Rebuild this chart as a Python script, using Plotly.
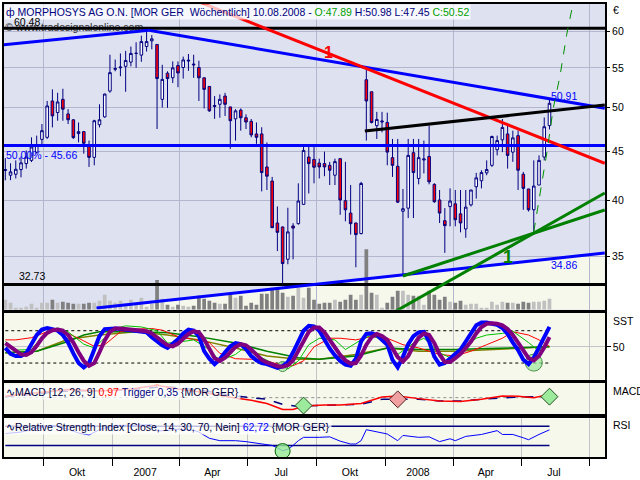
import math
import pandas as pd
import plotly.graph_objects as go

FONT = "Liberation Sans"
NAVY = "#000080"
CREAM = "#F6F8EC"
LAVENDER = "#DEE1F0"
GRID_MAIN = "#B4B6CE"
GRID_LOW = "#C4C4C8"

# ---------------- data ----------------
dates = pd.date_range("2006-08-11", periods=105, freq="7D")

opens = [43.0, 42.52, 42.62, 43.10, 43.72, 44.06, 44.94, 46.33, 46.56, 50.80,
         49.41, 51.00, 49.25, 48.56, 46.98, 47.20, 45.66, 44.38, 47.99, 48.90,
         52.02, 54.80, 55.00, 55.20, 55.76, 56.93, 56.70, 57.88, 58.67, 58.17,
         51.00, 54.30, 53.70, 55.30, 55.04, 55.90, 55.50, 55.04, 53.70, 52.60,
         50.25, 50.40, 51.40, 50.08, 48.67, 49.70, 48.80, 48.38, 46.94, 46.94,
         43.37, 41.93, 37.92, 37.56, 34.76, 37.65, 37.86, 39.65, 44.41, 44.16,
         43.78, 43.72, 43.54, 42.52, 44.24, 40.00, 38.83, 37.92, 36.97, 53.45,
         51.93, 47.88, 48.30, 48.25, 44.35, 43.44, 39.00, 39.29, 44.88, 42.19,
         44.10, 44.48, 41.60, 40.07, 38.13, 39.44, 39.70, 38.76, 37.38, 39.60,
         41.36, 41.96, 42.76, 43.54, 45.20, 46.28, 46.94, 44.94, 46.75, 42.62,
         41.14, 39.14, 41.53, 44.41, 47.89]
highs = [44.30, 43.75, 44.06, 44.48, 45.12, 46.56, 46.75, 48.07, 50.80, 52.23,
         51.81, 52.31, 49.81, 48.60, 48.25, 47.25, 46.20, 48.56, 50.40, 51.70,
         56.75, 56.10, 56.93, 57.28, 57.88, 58.47, 59.40, 60.48, 59.50, 58.20,
         55.40, 54.54, 55.85, 55.85, 56.50, 56.85, 56.75, 55.95, 53.75, 52.65,
         51.40, 51.60, 51.80, 50.10, 49.81, 49.90, 49.20, 48.65, 48.25, 47.70,
         46.00, 42.35, 39.45, 37.60, 39.33, 37.90, 41.70, 45.50, 45.50, 45.50,
         44.24, 44.99, 43.90, 44.24, 44.30, 43.90, 41.53, 37.95, 41.85, 54.74,
         51.95, 49.49, 49.49, 49.40, 46.38, 46.38, 41.14, 46.38, 46.38, 46.38,
         46.20, 47.88, 41.70, 41.04, 39.30, 41.20, 41.04, 41.04, 41.04, 41.04,
         42.76, 43.03, 44.06, 46.75, 46.75, 48.65, 48.07, 47.31, 47.31, 42.86,
         41.16, 44.06, 44.59, 48.83, 50.98]
lows = [42.00, 42.02, 42.19, 42.30, 43.20, 43.88, 44.77, 45.66, 46.38, 47.68,
        48.45, 48.45, 48.07, 46.38, 46.00, 44.77, 43.37, 43.54, 47.68, 48.80,
        51.81, 54.54, 53.90, 51.93, 55.20, 55.00, 55.80, 57.19, 57.50, 47.50,
        50.00, 49.97, 53.03, 52.50, 53.60, 54.60, 53.70, 50.80, 49.90, 49.50,
        48.67, 48.80, 49.00, 45.30, 46.20, 47.31, 47.50, 46.56, 45.84, 40.90,
        41.04, 37.45, 35.45, 32.73, 34.35, 34.76, 37.77, 39.60, 40.70, 41.70,
        42.19, 42.42, 41.53, 41.53, 38.67, 38.07, 36.88, 34.10, 36.90, 46.20,
        48.14, 46.38, 47.12, 43.54, 42.35, 39.80, 33.40, 38.37, 38.37, 41.60,
        42.70, 41.60, 39.80, 37.92, 35.30, 37.62, 37.62, 37.08, 36.60, 39.45,
        40.20, 41.20, 42.52, 43.37, 44.59, 44.94, 43.20, 43.90, 41.04, 39.14,
        38.98, 37.15, 41.53, 44.06, 47.45]
closes = [43.10, 42.86, 43.13, 43.80, 44.41, 45.50, 45.66, 47.31, 50.20, 49.02,
          50.68, 49.81, 48.56, 46.53, 47.20, 45.90, 44.38, 48.45, 48.56, 51.65,
          54.37, 54.90, 55.10, 55.98, 56.93, 56.95, 58.57, 58.57, 58.96, 53.60,
          53.50, 53.60, 55.00, 54.33, 56.05, 56.00, 55.40, 53.70, 52.23, 49.61,
          50.15, 51.00, 50.40, 48.45, 49.61, 48.80, 48.30, 46.83, 46.56, 42.79,
          42.42, 37.50, 37.08, 34.41, 37.12, 37.46, 39.97, 45.12, 43.72, 43.34,
          43.37, 43.37, 43.03, 43.93, 40.07, 39.14, 37.86, 36.88, 41.69, 50.80,
          48.25, 48.60, 48.40, 44.94, 43.54, 39.86, 39.24, 44.59, 42.79, 44.35,
          44.20, 41.85, 39.90, 38.83, 37.68, 39.97, 38.22, 37.92, 39.39, 41.04,
          42.25, 42.79, 43.10, 46.65, 46.20, 47.68, 44.59, 46.50, 43.03, 41.20,
          39.14, 41.43, 44.06, 47.76, 50.52]
volume_k = [100, 70, 20, 20, 30, 60, 20, 70, 70, 100,
            70, 80, 70, 60, 60, 60, 70, 70, 90, 150,
            90, 70, 90, 60, 100, 70, 120, 30, 60, 300,
            110, 50, 30, 50, 40, 30, 40, 140, 110, 90,
            70, 60, 60, 170, 120, 140, 40, 70, 50, 160,
            160, 220, 230, 170, 130, 140, 220, 120, 220, 100,
            60, 70, 70, 100, 80, 100, 150, 100, 150, 610,
            170, 150, 20, 70, 130, 190, 190, 150, 140, 140,
            50, 190, 150, 100, 130, 80, 70, 90, 50, 60,
            60, 20, 20, 80, 50, 80, 70, 70, 60, 80,
            70, 80, 80, 90, 110]

sst_fast = [48, 37, 33, 33, 38, 55, 72, 82, 85, 83, 80, 72, 58, 38, 20, 12, 20, 45, 70, 83,
            84, 84, 83, 82, 81, 80, 79, 77, 68, 60, 53, 48, 56, 64, 75, 82, 80, 70, 42, 28,
            18, 27, 40, 51, 57, 55, 46, 33, 25, 20, 18, 14, 11, 14, 22, 40, 62, 80, 89, 88,
            80, 62, 47, 34, 24, 17, 15, 28, 60, 74, 75, 72, 64, 54, 26, 12, 32, 55, 70, 77,
            78, 60, 32, 17, 20, 28, 38, 45, 60, 75, 90, 95, 95, 93, 91, 85, 74, 58, 44, 26,
            18, 30, 50, 66, 87]
sst_slow = [57, 50, 42, 36, 35, 40, 52, 66, 76, 81, 82, 80, 72, 58, 40, 24, 15, 20, 40, 62,
            78, 84, 84, 83, 82, 81, 80, 79, 75, 68, 60, 53, 51, 56, 65, 74, 79, 77, 64, 46,
            29, 24, 30, 40, 50, 55, 53, 45, 35, 26, 21, 17, 14, 13, 16, 25, 42, 62, 78, 86,
            86, 77, 63, 48, 35, 25, 19, 20, 34, 54, 68, 74, 70, 63, 48, 31, 23, 33, 52, 67,
            75, 72, 57, 36, 22, 22, 29, 37, 48, 60, 75, 87, 93, 94, 93, 90, 83, 72, 58, 43,
            29, 25, 33, 49, 68]
sst_green_idx = [0, 2, 5, 8, 10, 12, 15, 17, 19, 21, 23, 26, 29, 31, 34, 36, 39, 41, 44, 46,
                 49, 52, 54, 56, 58, 60, 63, 65, 68, 70, 73, 75, 78, 80, 83, 85, 87, 90, 92, 95,
                 97, 100, 102, 104]
sst_green_vals = [60, 44, 45, 80, 85, 78, 55, 48, 67, 84, 89, 87, 80, 57, 60, 63, 45, 24, 36, 51,
                  30, 15, 9, 24, 54, 66, 63, 45, 63, 72, 57, 36, 57, 66, 39, 30, 45, 66, 72, 75,
                  79, 58, 42, 66]
sst_red_idx = [0, 2, 5, 8, 11, 14, 17, 19, 22, 25, 28, 30, 33, 36, 39, 41, 44, 47, 50, 53,
               55, 57, 59, 62, 64, 67, 70, 73, 76, 79, 83, 86, 89, 92, 95, 97, 100, 102, 104]
sst_red_vals = [63, 63, 67, 78, 79, 66, 51, 54, 78, 83, 84, 81, 69, 63, 58, 38, 28, 27, 24, 15,
                15, 24, 50, 66, 66, 63, 69, 66, 54, 48, 36, 33, 42, 54, 66, 78, 72, 63, 51]
sst_olive_idx = [0, 6, 12, 18, 25, 31, 37, 44, 50, 56, 60, 67, 73, 79, 86, 92, 98, 104]
sst_olive_vals = [39, 42, 64, 72, 78, 72, 63, 48, 33, 27, 27, 36, 48, 42, 42, 45, 48, 50]
sst_dkgreen_idx = [0, 6, 12, 15, 18, 25, 31, 37, 44, 50, 56, 60, 67, 73, 79, 86, 92, 98, 104]
sst_dkgreen_vals = [39, 42, 60, 72, 78, 78, 76, 69, 57, 42, 30, 27, 33, 48, 45, 45, 47, 48, 50]
sst_levels = [80, 20]

macd_idx = [0, 6, 12, 18, 24, 29, 33, 38, 43, 47, 50, 53, 55, 57, 59, 61, 64, 68, 72, 75,
            79, 83, 87, 91, 95, 98, 101, 104]
macd_vals = [0.5, 1.5, 2.4, 2.0, 2.6, 3.7, 2.6, 1.5, 0.1, -0.78, -1.76, -3.53, -3.5, -2.5,
             -2.3, -2.16, -2.16, -1.76, 0.2, 0.49, -0.29, -0.98, -1.18, -0.49, 0.49, 0.39,
             0.0, 0.97]
trig_idx = [0, 6, 12, 18, 24, 30, 34, 39, 44, 47, 50, 53, 56, 58, 61, 64, 68, 72, 76, 79,
            83, 87, 91, 95, 98, 101, 104]
trig_vals = [0.3, 1.1, 2.0, 2.1, 2.4, 3.2, 2.9, 1.8, 0.5, 0.0, -0.49, -1.96, -2.6, -2.4,
             -2.2, -2.16, -1.96, -0.49, -0.49, -0.49, -0.98, -0.98, -0.49, 0.0, 0.2, 0.25, 0.35]

rsi_idx = [0, 3, 6, 9, 12, 14, 16, 18, 21, 24, 27, 28, 29, 33, 36, 37, 39, 41, 44, 46,
           49, 51, 52, 53, 54, 55, 56, 57, 60, 62, 64, 66, 67, 68, 69, 71, 73, 75, 76, 79,
           81, 83, 85, 86, 88, 91, 94, 95, 97, 99, 100, 102, 104]
rsi_vals = [55, 58, 66, 72, 64, 56, 52, 63, 72, 72, 73, 74, 60, 64, 62, 58, 45, 40, 40, 38,
            33, 30, 25, 19, 22, 30, 40, 47, 47, 48, 39, 33, 33, 40, 63, 58, 54, 40, 51, 47,
            48, 38, 44, 40, 49, 53, 61, 53, 53, 46, 42, 53, 62.72]
rsi_levels = [70, 30]

# signals (week index, value)
sst_sig_idx, sst_sig_vals, sst_sig_size = [53, 101], [13.5, 20.8], [10, 17]
rsi_sig_idx, rsi_sig_vals = [53], [18.2]
macd_buy_idx, macd_buy_vals = [57, 104], [-2.35, 0.29]
macd_sell_idx, macd_sell_vals = [75], [-0.5]

# price levels / trend lines (date, price)
level_prices = [60.48, 32.73]
fib50_price = 45.66
trend_blue = [(["2006-08-09", "2007-02-19"], [58.11, 60.18]),
              (["2007-02-19", "2008-10-21"], [60.18, 49.93])]
trend_red = (["2007-04-23", "2008-10-21"], [64.6, 43.75])
trend_black = (["2007-12-05", "2008-10-21"], [47.26, 50.3])
trend_support = (["2006-12-11", "2008-10-21"], [30.93, 35.29])
trend_green = [(["2008-01-25", "2008-10-21"], [33.40, 39.12]),
               (["2008-01-09", "2008-10-21"], [30.50, 40.75])]
green_curve_dates = ["2008-07-18", "2008-07-27", "2008-08-05", "2008-08-13",
                     "2008-08-22", "2008-08-31", "2008-09-09"]
green_curve_prices = [37.13, 41.04, 45.12, 49.9, 53.9, 59.55, 64.4]
label1_red = ("2007-10-18", 56.99)
label1_green = ("2008-06-14", 34.92)
value_label_top = 50.91
value_label_bottom = 34.86

x_tick_dates = ["2006-11-15", "2007-02-14", "2007-05-15", "2007-08-15",
                "2007-11-15", "2008-02-14", "2008-05-15", "2008-08-14"]
x_tick_text = ["Okt", "2007", "Apr", "Jul", "Okt", "2008", "Apr", "Jul"]
price_ticks = [35, 40, 45, 50, 55, 60]
header_date = "10.08.2008"

# ---------------- layout geometry ----------------
W, H = 640, 480
ML, MR, MT, MB = 2, 35, 2, 20
PH = H - MT - MB


def ydom(top_px, bot_px):
    return [1 - (bot_px - MT) / PH, 1 - (top_px - MT) / PH]


dom_main = ydom(2, 311)
dom_sst = ydom(314, 382)
dom_macd = ydom(385, 417)
dom_rsi = ydom(421, 460)
X_RANGE = ["2006-08-09 06:00", "2008-10-21 07:00"]
PRICE_LO, PRICE_HI = 30.81, 64.09
LLO, LHI = math.log10(PRICE_LO), math.log10(PRICE_HI)
VOL_MAX = 3090
BORDER = 1.5

fig = go.Figure()

# watermark (under everything in price layer)
fig.add_trace(go.Scatter(x=[dates[0]], y=[level_prices[0]], mode="text",
                         text=["© www.tradesignalonline.com"], textposition="middle right",
                         textfont=dict(family=FONT, size=10.5, color="#303030"),
                         xaxis="x", yaxis="y5", hoverinfo="skip"))

# volume bars (base axis)
vol_colors = ["#C0C0C0" if c >= o else "#808080" for o, c in zip(opens, closes)]
fig.add_trace(go.Bar(x=dates, y=volume_k, marker=dict(color=vol_colors, line=dict(width=0)),
                     width=5 * 86400000, xaxis="x", yaxis="y", hoverinfo="skip"))

# candles
fig.add_trace(go.Candlestick(
    x=dates, open=opens, high=highs, low=lows, close=closes,
    increasing=dict(line=dict(color=NAVY, width=1), fillcolor="white"),
    decreasing=dict(line=dict(color=NAVY, width=1), fillcolor="#FF0000"),
    whiskerwidth=0, xaxis="x", yaxis="y5", hoverinfo="skip"))


def pline(xs, ys, color, width=3, dash="solid"):
    fig.add_trace(go.Scatter(x=xs, y=ys, mode="lines",
                             line=dict(color=color, width=width, dash=dash),
                             xaxis="x", yaxis="y5", hoverinfo="skip"))


for p in level_prices:
    pline(X_RANGE, [p, p], "black")
pline(X_RANGE, [fib50_price, fib50_price], "#0000FF")
for xs, ys in trend_blue:
    pline(xs, ys, "#0000FF")
pline(trend_support[0], trend_support[1], "#0000FF")
pline(trend_red[0], trend_red[1], "#FF0000")
pline(trend_black[0], trend_black[1], "black")
for xs, ys in trend_green:
    pline(xs, ys, "#008000")
pline(green_curve_dates, green_curve_prices, "#009000", width=1, dash="dash")

# ---- SST panel ----
def sline(idx, vals, color, width):
    fig.add_trace(go.Scatter(x=[dates[i] for i in idx], y=vals, mode="lines",
                             line=dict(color=color, width=width),
                             xaxis="x2", yaxis="y2", hoverinfo="skip"))


for lv in sst_levels:
    fig.add_trace(go.Scatter(x=[dates[0], dates[-1]], y=[lv, lv], mode="lines",
                             line=dict(color="black", width=1, dash="dot"),
                             xaxis="x2", yaxis="y2", hoverinfo="skip"))
sline(sst_olive_idx, sst_olive_vals, "#808000", 1.5)
sline(sst_dkgreen_idx, sst_dkgreen_vals, "#008000", 1.5)
sline(sst_red_idx, sst_red_vals, "#FF0000", 1)
sline(sst_green_idx, sst_green_vals, "#00C000", 1)
fig.add_trace(go.Scatter(x=[dates[i] for i in sst_sig_idx], y=sst_sig_vals, mode="markers",
                         marker=dict(size=sst_sig_size, color="#9CEB9C",
                                     line=dict(color="#006400", width=1)),
                         xaxis="x2", yaxis="y2", hoverinfo="skip"))
sline(range(len(sst_fast)), sst_fast, "#0000FF", 4)
sline(range(len(sst_slow)), sst_slow, "#800080", 4)

# ---- MACD panel ----
fig.add_trace(go.Scatter(x=[dates[0], dates[-1]], y=[0, 0], mode="lines",
                         line=dict(color="#909090", width=1, dash="dot"),
                         xaxis="x3", yaxis="y3", hoverinfo="skip"))
fig.add_trace(go.Scatter(x=[dates[i] for i in trig_idx], y=trig_vals, mode="lines",
                         line=dict(color=NAVY, width=1.5, dash="dash"),
                         xaxis="x3", yaxis="y3", hoverinfo="skip"))
fig.add_trace(go.Scatter(x=[dates[i] for i in macd_idx], y=macd_vals, mode="lines",
                         line=dict(color="#FF0000", width=1.5),
                         xaxis="x3", yaxis="y3", hoverinfo="skip"))
fig.add_trace(go.Scatter(x=[dates[i] for i in macd_buy_idx], y=macd_buy_vals, mode="markers",
                         marker=dict(symbol="diamond", size=13, color="#9CEB9C",
                                     line=dict(color="#205020", width=1)),
                         xaxis="x3", yaxis="y3", hoverinfo="skip"))
fig.add_trace(go.Scatter(x=[dates[i] for i in macd_sell_idx], y=macd_sell_vals, mode="markers",
                         marker=dict(symbol="diamond", size=13, color="#F0A0A0",
                                     line=dict(color="#502020", width=1)),
                         xaxis="x3", yaxis="y3", hoverinfo="skip"))

# ---- RSI panel ----
for lv in rsi_levels:
    fig.add_trace(go.Scatter(x=[dates[0], dates[-1]], y=[lv, lv], mode="lines",
                             line=dict(color=NAVY, width=1.5),
                             xaxis="x4", yaxis="y4", hoverinfo="skip"))
fig.add_trace(go.Scatter(x=[dates[i] for i in rsi_idx], y=rsi_vals, mode="lines",
                         line=dict(color="#0000FF", width=1),
                         xaxis="x4", yaxis="y4", hoverinfo="skip"))
fig.add_trace(go.Scatter(x=[dates[i] for i in rsi_sig_idx], y=rsi_sig_vals, mode="markers",
                         marker=dict(size=15, color="rgba(150,235,150,0.8)",
                                     line=dict(color="#006400", width=1)),
                         xaxis="x4", yaxis="y4", hoverinfo="skip"))

# ---------------- axes ----------------
def xax(anchor, gridcolor, labels=False):
    d = dict(type="date", range=X_RANGE, anchor=anchor, domain=[0, 1],
             showline=True, mirror=True, linecolor="black", linewidth=BORDER,
             showgrid=False, zeroline=False, fixedrange=True,
             minor=dict(tickmode="linear", tick0="2006-01-01", dtick="M3",
                        showgrid=True, gridcolor=gridcolor, gridwidth=1,
                        ticks="outside" if labels else "", ticklen=7,
                        tickcolor="black", tickwidth=1))
    if labels:
        d.update(tickmode="array", tickvals=x_tick_dates, ticktext=x_tick_text,
                 ticks="outside", ticklen=5, tickcolor="rgba(0,0,0,0)",
                 showticklabels=True, tickfont=dict(family=FONT, size=10.5, color="black"))
    else:
        d.update(showticklabels=False, ticks="")
    return d


def plain_y(domain, rng, anchor):
    return dict(domain=domain, range=rng, anchor=anchor, showline=True, mirror=True,
                linecolor="black", linewidth=BORDER, showticklabels=False, ticks="",
                showgrid=False, zeroline=False, fixedrange=True)


main_x = xax("y", GRID_MAIN)
main_x["rangeslider"] = dict(visible=False)

fig.update_layout(
    width=W, height=H, margin=dict(l=ML, r=MR, t=MT, b=MB, pad=0),
    paper_bgcolor="white", plot_bgcolor=CREAM, showlegend=False, hovermode=False,
    font=dict(family=FONT, size=10.5, color="black"),
    xaxis=main_x,
    xaxis2=xax("y2", GRID_LOW),
    xaxis3=xax("y3", GRID_LOW),
    xaxis4=xax("y4", GRID_LOW, labels=True),
    yaxis=plain_y(dom_main, [0, VOL_MAX], "x"),
    yaxis5=dict(overlaying="y", anchor="x", side="right", type="log", range=[LLO, LHI],
                tickmode="array", tickvals=price_ticks, ticktext=[str(t) for t in price_ticks],
                ticks="outside", ticklen=4, tickcolor="black", tickwidth=1,
                showgrid=True, gridcolor=GRID_MAIN, gridwidth=1, zeroline=False,
                showline=False, fixedrange=True,
                tickfont=dict(family=FONT, size=10.5, color="black")),
    yaxis2=dict(domain=dom_sst, range=[-11.2, 113.6], anchor="x2", side="right",
                tickmode="array", tickvals=[50], ticktext=["50"], ticks="outside", ticklen=4,
                tickcolor="black", showgrid=True, gridcolor=GRID_LOW, zeroline=False,
                showline=True, mirror=True, linecolor="black", linewidth=BORDER,
                fixedrange=True, tickfont=dict(family=FONT, size=10.5, color="black")),
    yaxis3=plain_y(dom_macd, [-5.0, 4.41], "x3"),
    yaxis4=plain_y(dom_rsi, [5.8, 86.6], "x4"),
    boxgap=0.3,
)

# backgrounds
def to_vol_axis(p):
    return (math.log10(p) - LLO) / (LHI - LLO) * VOL_MAX


sd, sp = trend_support
shapes = [dict(type="rect", xref="x domain", yref="y domain", x0=0, x1=1, y0=0, y1=1,
               fillcolor=LAVENDER, line=dict(width=0), layer="below"),
          dict(type="path", xref="x", yref="y", layer="below", fillcolor=CREAM,
               line=dict(width=0),
               path=f"M {sd[0]},{to_vol_axis(sp[0])} L {sd[1]},{to_vol_axis(sp[1])} "
                    f"L {sd[1]},0 L {sd[0]},0 Z")]
fig.update_layout(shapes=shapes)


def fmt_de(v):
    return f"{v:.2f}".replace(".", ",")


GREEN_TXT = "#00A000"
nb = "\u00a0"
header = (f'<span style="color:{NAVY}">ф MORPHOSYS AG O.N. [MOR GER{nb} Wöchentlich] '
          f'{header_date} -{nb}</span><span style="color:{GREEN_TXT}">O:{opens[-1]:.2f}</span>'
          f'<span style="color:{NAVY}">{nb}H:{highs[-1]:.2f} L:{lows[-1]:.2f}{nb}</span>'
          f'<span style="color:{GREEN_TXT}">C:{closes[-1]:.2f}</span>')
macd_label = (f'∿MACD [12, 26, 9] <span style="color:#FF0000">{fmt_de(macd_vals[-1])}</span>'
              f'<span style="color:{NAVY}">{nb}Trigger {fmt_de(trig_vals[-1])}{nb}</span>'
              f'{{MOR GER}}')
rsi_label = (f'∿Relative Strength Index [Close, 14, 30, 70, Nein] '
             f'<span style="color:#0000FF">{fmt_de(rsi_vals[-1])}</span>{nb}{{MOR GER}}')

ann = []
ann.append(dict(text=header, xref="paper", yref="paper", x=0, y=1, xanchor="left",
                yanchor="top", showarrow=False, bgcolor="rgba(255,255,255,0.75)",
                borderpad=1, font=dict(family=FONT, size=10.5, color=NAVY)))
ann.append(dict(text=macd_label, xref="paper", yref="paper", x=0, y=dom_macd[1],
                xanchor="left", yanchor="top", yshift=-1, showarrow=False,
                bgcolor="rgba(255,255,255,0.75)", borderpad=1,
                font=dict(family=FONT, size=10.5, color="#000040")))
ann.append(dict(text=rsi_label, xref="paper", yref="paper", x=0, y=dom_rsi[1],
                xanchor="left", yanchor="top", yshift=-1, showarrow=False,
                bgcolor="rgba(255,255,255,0.75)", borderpad=1,
                font=dict(family=FONT, size=10.5, color="#000040")))
# right side labels
for txt, ypx in [("€", 8), ("SST", 322), ("MACD", 393), ("RSI", 428)]:
    ann.append(dict(text=txt, xref="paper", yref="paper", x=1, xshift=6,
                    y=1 - (ypx - MT) / PH, xanchor="left", yanchor="middle",
                    showarrow=False, font=dict(family=FONT, size=10.5, color="black")))
# price level labels
ann.append(dict(text=f"{level_prices[0]:.2f}", xref="paper", yref="y5", x=0.013,
                y=math.log10(level_prices[0]), yshift=6, xanchor="left", yanchor="middle",
                showarrow=False, font=dict(family=FONT, size=10.5, color="black")))
ann.append(dict(text=f"{level_prices[1]:.2f}", xref="paper", yref="y5", x=0.022,
                y=math.log10(level_prices[1]), yshift=8, xanchor="left", yanchor="middle",
                showarrow=False, font=dict(family=FONT, size=10.5, color="black")))
ann.append(dict(text=f"50,00% - {fib50_price:.2f}", xref="paper", yref="y5", x=0,
                y=math.log10(fib50_price), yshift=-10, xanchor="left", yanchor="middle",
                showarrow=False, font=dict(family=FONT, size=10.5, color="#0000FF")))
ann.append(dict(text=f"{value_label_top:.2f}", xref="x", yref="y5", x=dates[-1],
                y=math.log10(value_label_top), yshift=4, xanchor="left", yanchor="middle",
                showarrow=False, font=dict(family=FONT, size=10.5, color="#0000FF")))
ann.append(dict(text=f"{value_label_bottom:.2f}", xref="x", yref="y5", x=dates[-1],
                y=math.log10(value_label_bottom), yshift=-7, xanchor="left",
                yanchor="middle", showarrow=False,
                font=dict(family=FONT, size=10.5, color="#0000FF")))
ann.append(dict(text="<b>1</b>", xref="x", yref="y5", x=label1_red[0],
                y=math.log10(label1_red[1]), showarrow=False,
                font=dict(family=FONT, size=16, color="#FF0000")))
ann.append(dict(text="<b>1</b>", xref="x", yref="y5", x=label1_green[0],
                y=math.log10(label1_green[1]), showarrow=False,
                font=dict(family=FONT, size=18, color="#008000")))
fig.update_layout(annotations=ann)

fig.write_html("out.html", config={"displayModeBar": False},
               post_script="document.body.style.margin='0px';")
